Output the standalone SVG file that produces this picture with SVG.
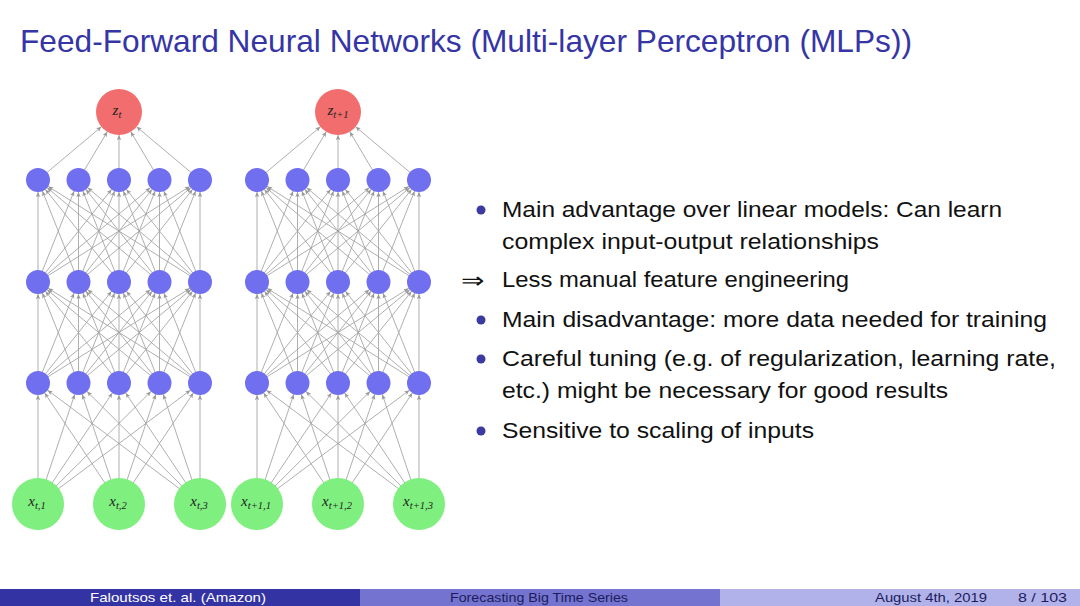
<svg xmlns="http://www.w3.org/2000/svg" width="1080" height="606" viewBox="0 0 1080 606">
<style>
.e{stroke:#a0a0a0;stroke-width:0.85;marker-end:url(#ah)}
.o{stroke:#a0a0a0;stroke-width:0.85;marker-end:url(#ao)}
.hid{fill:#6f6ff0}
.out{fill:#f26d6d}
.inp{fill:#7ff07f}
.lbl{font-family:"Liberation Serif",serif;font-style:italic;font-size:15px;fill:#222;text-anchor:middle}
.sub{font-size:10.5px}
.title{font-family:"Liberation Sans",Arial,sans-serif;font-size:32px;fill:#3535a6}
.body{font-family:"Liberation Sans",Arial,sans-serif;font-size:22px;fill:#111}
.ball{fill:#3a3aa0}
.ft{font-family:"Liberation Sans",Arial,sans-serif;font-size:13px}
</style>
<defs>
<marker id="ah" markerUnits="userSpaceOnUse" viewBox="-22 -4 24 8" markerWidth="24" markerHeight="8" refX="0" refY="0" orient="auto"><path d="M-12,0 L-17,-2.2 L-16,0 L-17,2.2 Z" fill="#999"/></marker>
<marker id="ao" markerUnits="userSpaceOnUse" viewBox="-32 -4 34 8" markerWidth="34" markerHeight="8" refX="0" refY="0" orient="auto"><path d="M-23,0 L-28,-2.2 L-27,0 L-28,2.2 Z" fill="#999"/></marker>
</defs>
<rect width="1080" height="606" fill="#ffffff"/>
<text class="title" x="20" y="52" textLength="892" lengthAdjust="spacingAndGlyphs">Feed-Forward Neural Networks (Multi-layer Perceptron (MLPs))</text>

<g id="connectors">
<g id="edges-left">
<line class="e" x1="38" y1="504" x2="38" y2="383"/><line class="e" x1="38" y1="504" x2="78.5" y2="383"/><line class="e" x1="38" y1="504" x2="119" y2="383"/><line class="e" x1="38" y1="504" x2="159.5" y2="383"/><line class="e" x1="38" y1="504" x2="200" y2="383"/>
<line class="e" x1="119" y1="504" x2="38" y2="383"/><line class="e" x1="119" y1="504" x2="78.5" y2="383"/><line class="e" x1="119" y1="504" x2="119" y2="383"/><line class="e" x1="119" y1="504" x2="159.5" y2="383"/><line class="e" x1="119" y1="504" x2="200" y2="383"/>
<line class="e" x1="200" y1="504" x2="38" y2="383"/><line class="e" x1="200" y1="504" x2="78.5" y2="383"/><line class="e" x1="200" y1="504" x2="119" y2="383"/><line class="e" x1="200" y1="504" x2="159.5" y2="383"/><line class="e" x1="200" y1="504" x2="200" y2="383"/>
<line class="e" x1="38" y1="383" x2="38" y2="282"/><line class="e" x1="38" y1="383" x2="78.5" y2="282"/><line class="e" x1="38" y1="383" x2="119" y2="282"/><line class="e" x1="38" y1="383" x2="159.5" y2="282"/><line class="e" x1="38" y1="383" x2="200" y2="282"/>
<line class="e" x1="78.5" y1="383" x2="38" y2="282"/><line class="e" x1="78.5" y1="383" x2="78.5" y2="282"/><line class="e" x1="78.5" y1="383" x2="119" y2="282"/><line class="e" x1="78.5" y1="383" x2="159.5" y2="282"/><line class="e" x1="78.5" y1="383" x2="200" y2="282"/>
<line class="e" x1="119" y1="383" x2="38" y2="282"/><line class="e" x1="119" y1="383" x2="78.5" y2="282"/><line class="e" x1="119" y1="383" x2="119" y2="282"/><line class="e" x1="119" y1="383" x2="159.5" y2="282"/><line class="e" x1="119" y1="383" x2="200" y2="282"/>
<line class="e" x1="159.5" y1="383" x2="38" y2="282"/><line class="e" x1="159.5" y1="383" x2="78.5" y2="282"/><line class="e" x1="159.5" y1="383" x2="119" y2="282"/><line class="e" x1="159.5" y1="383" x2="159.5" y2="282"/><line class="e" x1="159.5" y1="383" x2="200" y2="282"/>
<line class="e" x1="200" y1="383" x2="38" y2="282"/><line class="e" x1="200" y1="383" x2="78.5" y2="282"/><line class="e" x1="200" y1="383" x2="119" y2="282"/><line class="e" x1="200" y1="383" x2="159.5" y2="282"/><line class="e" x1="200" y1="383" x2="200" y2="282"/>
<line class="e" x1="38" y1="282" x2="38" y2="180"/><line class="e" x1="38" y1="282" x2="78.5" y2="180"/><line class="e" x1="38" y1="282" x2="119" y2="180"/><line class="e" x1="38" y1="282" x2="159.5" y2="180"/><line class="e" x1="38" y1="282" x2="200" y2="180"/>
<line class="e" x1="78.5" y1="282" x2="38" y2="180"/><line class="e" x1="78.5" y1="282" x2="78.5" y2="180"/><line class="e" x1="78.5" y1="282" x2="119" y2="180"/><line class="e" x1="78.5" y1="282" x2="159.5" y2="180"/><line class="e" x1="78.5" y1="282" x2="200" y2="180"/>
<line class="e" x1="119" y1="282" x2="38" y2="180"/><line class="e" x1="119" y1="282" x2="78.5" y2="180"/><line class="e" x1="119" y1="282" x2="119" y2="180"/><line class="e" x1="119" y1="282" x2="159.5" y2="180"/><line class="e" x1="119" y1="282" x2="200" y2="180"/>
<line class="e" x1="159.5" y1="282" x2="38" y2="180"/><line class="e" x1="159.5" y1="282" x2="78.5" y2="180"/><line class="e" x1="159.5" y1="282" x2="119" y2="180"/><line class="e" x1="159.5" y1="282" x2="159.5" y2="180"/><line class="e" x1="159.5" y1="282" x2="200" y2="180"/>
<line class="e" x1="200" y1="282" x2="38" y2="180"/><line class="e" x1="200" y1="282" x2="78.5" y2="180"/><line class="e" x1="200" y1="282" x2="119" y2="180"/><line class="e" x1="200" y1="282" x2="159.5" y2="180"/><line class="e" x1="200" y1="282" x2="200" y2="180"/>
<line class="o" x1="38" y1="180" x2="119" y2="112"/><line class="o" x1="78.5" y1="180" x2="119" y2="112"/><line class="o" x1="119" y1="180" x2="119" y2="112"/><line class="o" x1="159.5" y1="180" x2="119" y2="112"/><line class="o" x1="200" y1="180" x2="119" y2="112"/>
</g>
<g id="edges-right">
<line class="e" x1="257" y1="504" x2="257" y2="383"/><line class="e" x1="257" y1="504" x2="297.5" y2="383"/><line class="e" x1="257" y1="504" x2="338" y2="383"/><line class="e" x1="257" y1="504" x2="378.5" y2="383"/><line class="e" x1="257" y1="504" x2="419" y2="383"/>
<line class="e" x1="338" y1="504" x2="257" y2="383"/><line class="e" x1="338" y1="504" x2="297.5" y2="383"/><line class="e" x1="338" y1="504" x2="338" y2="383"/><line class="e" x1="338" y1="504" x2="378.5" y2="383"/><line class="e" x1="338" y1="504" x2="419" y2="383"/>
<line class="e" x1="419" y1="504" x2="257" y2="383"/><line class="e" x1="419" y1="504" x2="297.5" y2="383"/><line class="e" x1="419" y1="504" x2="338" y2="383"/><line class="e" x1="419" y1="504" x2="378.5" y2="383"/><line class="e" x1="419" y1="504" x2="419" y2="383"/>
<line class="e" x1="257" y1="383" x2="257" y2="282"/><line class="e" x1="257" y1="383" x2="297.5" y2="282"/><line class="e" x1="257" y1="383" x2="338" y2="282"/><line class="e" x1="257" y1="383" x2="378.5" y2="282"/><line class="e" x1="257" y1="383" x2="419" y2="282"/>
<line class="e" x1="297.5" y1="383" x2="257" y2="282"/><line class="e" x1="297.5" y1="383" x2="297.5" y2="282"/><line class="e" x1="297.5" y1="383" x2="338" y2="282"/><line class="e" x1="297.5" y1="383" x2="378.5" y2="282"/><line class="e" x1="297.5" y1="383" x2="419" y2="282"/>
<line class="e" x1="338" y1="383" x2="257" y2="282"/><line class="e" x1="338" y1="383" x2="297.5" y2="282"/><line class="e" x1="338" y1="383" x2="338" y2="282"/><line class="e" x1="338" y1="383" x2="378.5" y2="282"/><line class="e" x1="338" y1="383" x2="419" y2="282"/>
<line class="e" x1="378.5" y1="383" x2="257" y2="282"/><line class="e" x1="378.5" y1="383" x2="297.5" y2="282"/><line class="e" x1="378.5" y1="383" x2="338" y2="282"/><line class="e" x1="378.5" y1="383" x2="378.5" y2="282"/><line class="e" x1="378.5" y1="383" x2="419" y2="282"/>
<line class="e" x1="419" y1="383" x2="257" y2="282"/><line class="e" x1="419" y1="383" x2="297.5" y2="282"/><line class="e" x1="419" y1="383" x2="338" y2="282"/><line class="e" x1="419" y1="383" x2="378.5" y2="282"/><line class="e" x1="419" y1="383" x2="419" y2="282"/>
<line class="e" x1="257" y1="282" x2="257" y2="180"/><line class="e" x1="257" y1="282" x2="297.5" y2="180"/><line class="e" x1="257" y1="282" x2="338" y2="180"/><line class="e" x1="257" y1="282" x2="378.5" y2="180"/><line class="e" x1="257" y1="282" x2="419" y2="180"/>
<line class="e" x1="297.5" y1="282" x2="257" y2="180"/><line class="e" x1="297.5" y1="282" x2="297.5" y2="180"/><line class="e" x1="297.5" y1="282" x2="338" y2="180"/><line class="e" x1="297.5" y1="282" x2="378.5" y2="180"/><line class="e" x1="297.5" y1="282" x2="419" y2="180"/>
<line class="e" x1="338" y1="282" x2="257" y2="180"/><line class="e" x1="338" y1="282" x2="297.5" y2="180"/><line class="e" x1="338" y1="282" x2="338" y2="180"/><line class="e" x1="338" y1="282" x2="378.5" y2="180"/><line class="e" x1="338" y1="282" x2="419" y2="180"/>
<line class="e" x1="378.5" y1="282" x2="257" y2="180"/><line class="e" x1="378.5" y1="282" x2="297.5" y2="180"/><line class="e" x1="378.5" y1="282" x2="338" y2="180"/><line class="e" x1="378.5" y1="282" x2="378.5" y2="180"/><line class="e" x1="378.5" y1="282" x2="419" y2="180"/>
<line class="e" x1="419" y1="282" x2="257" y2="180"/><line class="e" x1="419" y1="282" x2="297.5" y2="180"/><line class="e" x1="419" y1="282" x2="338" y2="180"/><line class="e" x1="419" y1="282" x2="378.5" y2="180"/><line class="e" x1="419" y1="282" x2="419" y2="180"/>
<line class="o" x1="257" y1="180" x2="338" y2="112"/><line class="o" x1="297.5" y1="180" x2="338" y2="112"/><line class="o" x1="338" y1="180" x2="338" y2="112"/><line class="o" x1="378.5" y1="180" x2="338" y2="112"/><line class="o" x1="419" y1="180" x2="338" y2="112"/>
</g>
</g>

<g id="net-left">
<g id="zt"><circle class="out" cx="119" cy="112" r="23"/><text class="lbl" x="117" y="115">z<tspan class="sub" dy="3">t</tspan></text></g>
<g id="L3n1"><circle class="hid" cx="38" cy="180" r="12"/></g>
<g id="L3n2"><circle class="hid" cx="78.5" cy="180" r="12"/></g>
<g id="L3n3"><circle class="hid" cx="119" cy="180" r="12"/></g>
<g id="L3n4"><circle class="hid" cx="159.5" cy="180" r="12"/></g>
<g id="L3n5"><circle class="hid" cx="200" cy="180" r="12"/></g>
<g id="L2n1"><circle class="hid" cx="38" cy="282" r="12"/></g>
<g id="L2n2"><circle class="hid" cx="78.5" cy="282" r="12"/></g>
<g id="L2n3"><circle class="hid" cx="119" cy="282" r="12"/></g>
<g id="L2n4"><circle class="hid" cx="159.5" cy="282" r="12"/></g>
<g id="L2n5"><circle class="hid" cx="200" cy="282" r="12"/></g>
<g id="L1n1"><circle class="hid" cx="38" cy="383" r="12"/></g>
<g id="L1n2"><circle class="hid" cx="78.5" cy="383" r="12"/></g>
<g id="L1n3"><circle class="hid" cx="119" cy="383" r="12"/></g>
<g id="L1n4"><circle class="hid" cx="159.5" cy="383" r="12"/></g>
<g id="L1n5"><circle class="hid" cx="200" cy="383" r="12"/></g>
<g id="xt1"><circle class="inp" cx="38" cy="504" r="26"/><text class="lbl" x="37" y="506">x<tspan class="sub" dy="3">t,1</tspan></text></g>
<g id="xt2"><circle class="inp" cx="119" cy="504" r="26"/><text class="lbl" x="118" y="506">x<tspan class="sub" dy="3">t,2</tspan></text></g>
<g id="xt3"><circle class="inp" cx="200" cy="504" r="26"/><text class="lbl" x="199" y="506">x<tspan class="sub" dy="3">t,3</tspan></text></g>
</g>

<g id="net-right">
<g id="zt1"><circle class="out" cx="338" cy="112" r="23"/><text class="lbl" x="338" y="115">z<tspan class="sub" dy="3">t+1</tspan></text></g>
<g id="R3n1"><circle class="hid" cx="257" cy="180" r="12"/></g>
<g id="R3n2"><circle class="hid" cx="297.5" cy="180" r="12"/></g>
<g id="R3n3"><circle class="hid" cx="338" cy="180" r="12"/></g>
<g id="R3n4"><circle class="hid" cx="378.5" cy="180" r="12"/></g>
<g id="R3n5"><circle class="hid" cx="419" cy="180" r="12"/></g>
<g id="R2n1"><circle class="hid" cx="257" cy="282" r="12"/></g>
<g id="R2n2"><circle class="hid" cx="297.5" cy="282" r="12"/></g>
<g id="R2n3"><circle class="hid" cx="338" cy="282" r="12"/></g>
<g id="R2n4"><circle class="hid" cx="378.5" cy="282" r="12"/></g>
<g id="R2n5"><circle class="hid" cx="419" cy="282" r="12"/></g>
<g id="R1n1"><circle class="hid" cx="257" cy="383" r="12"/></g>
<g id="R1n2"><circle class="hid" cx="297.5" cy="383" r="12"/></g>
<g id="R1n3"><circle class="hid" cx="338" cy="383" r="12"/></g>
<g id="R1n4"><circle class="hid" cx="378.5" cy="383" r="12"/></g>
<g id="R1n5"><circle class="hid" cx="419" cy="383" r="12"/></g>
<g id="xt11"><circle class="inp" cx="257" cy="504" r="26"/><text class="lbl" x="256" y="506">x<tspan class="sub" dy="3">t+1,1</tspan></text></g>
<g id="xt12"><circle class="inp" cx="338" cy="504" r="26"/><text class="lbl" x="337" y="506">x<tspan class="sub" dy="3">t+1,2</tspan></text></g>
<g id="xt13"><circle class="inp" cx="419" cy="504" r="26"/><text class="lbl" x="418" y="506">x<tspan class="sub" dy="3">t+1,3</tspan></text></g>
</g>

<g id="bullets">
<circle class="ball" cx="481" cy="210" r="4.5"/>
<text class="body" x="502" y="217" textLength="500" lengthAdjust="spacingAndGlyphs">Main advantage over linear models: Can learn</text>
<text class="body" x="502" y="249" textLength="377" lengthAdjust="spacingAndGlyphs">complex input-output relationships</text>
<text class="body" x="461" y="288" font-size="25" textLength="23" lengthAdjust="spacingAndGlyphs">⇒</text>
<text class="body" x="502" y="287" textLength="347" lengthAdjust="spacingAndGlyphs">Less manual feature engineering</text>
<circle class="ball" cx="481" cy="320" r="4.5"/>
<text class="body" x="502" y="327" textLength="545" lengthAdjust="spacingAndGlyphs">Main disadvantage: more data needed for training</text>
<circle class="ball" cx="481" cy="359" r="4.5"/>
<text class="body" x="502" y="366" textLength="554" lengthAdjust="spacingAndGlyphs">Careful tuning (e.g. of regularization, learning rate,</text>
<text class="body" x="502" y="398" textLength="446" lengthAdjust="spacingAndGlyphs">etc.) might be necessary for good results</text>
<circle class="ball" cx="481" cy="431" r="4.5"/>
<text class="body" x="502" y="438" textLength="312" lengthAdjust="spacingAndGlyphs">Sensitive to scaling of inputs</text>
</g>

<g id="footer">
<rect x="0" y="589" width="360" height="17" fill="#3333a3"/>
<rect x="360" y="589" width="360" height="17" fill="#7474d0"/>
<rect x="720" y="589" width="360" height="17" fill="#b2b2ea"/>
<text class="ft" x="90" y="602" fill="#ffffff" textLength="176" lengthAdjust="spacingAndGlyphs">Faloutsos et. al.  (Amazon)</text>
<text class="ft" x="450" y="602" fill="#1c1c5c" textLength="178" lengthAdjust="spacingAndGlyphs">Forecasting Big Time Series</text>
<text class="ft" x="875" y="602" fill="#1c1c5c" textLength="112" lengthAdjust="spacingAndGlyphs">August 4th, 2019</text>
<text class="ft" x="1018" y="602" fill="#1c1c5c" textLength="49" lengthAdjust="spacingAndGlyphs">8 / 103</text>
</g>
</svg>
